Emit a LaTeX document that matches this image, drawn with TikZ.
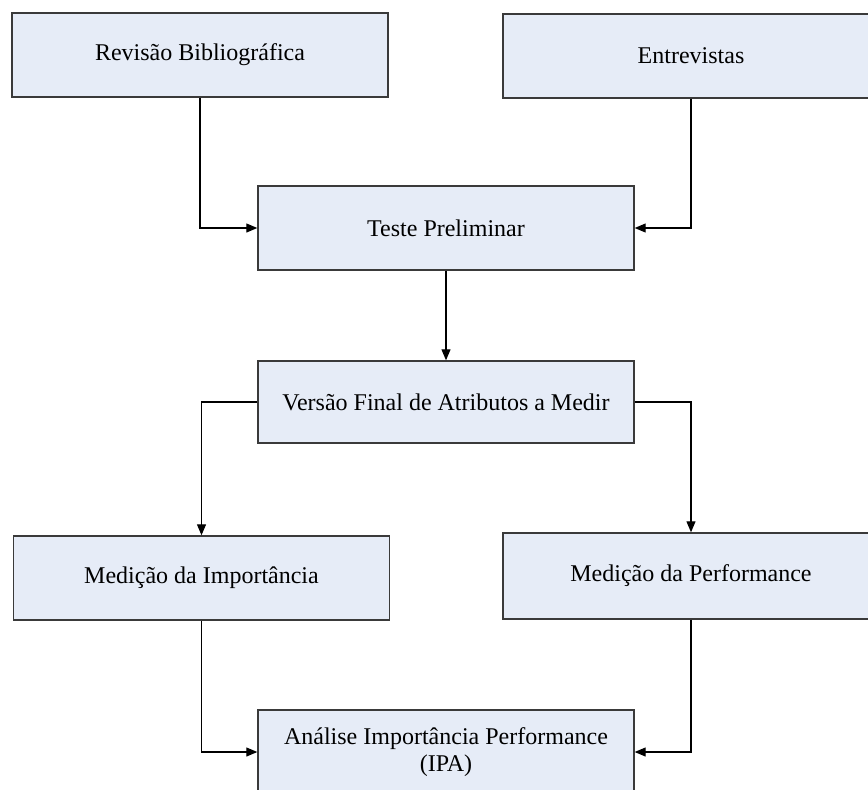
\documentclass[tikz,border=0pt]{standalone}
\usepackage{fontspec}
\setmainfont{Liberation Serif}
\usetikzlibrary{arrows.meta}
\definecolor{boxfill}{HTML}{E6ECF7}
\definecolor{boxdraw}{HTML}{3A3A3A}
\tikzset{
  stepbox/.style={draw=boxdraw, line width=1.4pt, fill=boxfill, minimum width=376pt, minimum height=84pt, inner sep=0pt, align=center, font=\fontsize{24}{27}\selectfont},
  conn/.style={draw=black, line width=1.1pt, -{Triangle[length=11pt,width=9pt]}}
}
\begin{document}
\begin{tikzpicture}[x=1pt,y=-1pt]
\useasboundingbox (0,0) rectangle (868,790);
\clip (0,0) rectangle (868,790);
\node[stepbox] (b1) at (200,55) {Revisão Bibliográfica};
\node[stepbox] (b2) at (691,56) {Entrevistas};
\node[stepbox] (b3) at (446,228) {Teste Preliminar};
\node[stepbox, minimum height=82pt] (b4) at (446,402) {Versão Final de Atributos a Medir};
\node[stepbox] (b5) at (201.5,578) {Medição da Importância};
\node[stepbox, minimum height=86pt] (b6) at (691,576) {Medição da Performance};
\node[stepbox] (b7) at (446,752) {Análise Importância Performance\\(IPA)};
\draw[conn] (b1.south) |- (b3.west);
\draw[conn] (b2.south) |- (b3.east);
\draw[conn] (b3.south) -- (b4.north);
\draw[conn] (b4.west) -| (b5.north);
\draw[conn] (b4.east) -| (b6.north);
\draw[conn] (b5.south) |- (b7.west);
\draw[conn] (b6.south) |- (b7.east);
\end{tikzpicture}
\end{document}
